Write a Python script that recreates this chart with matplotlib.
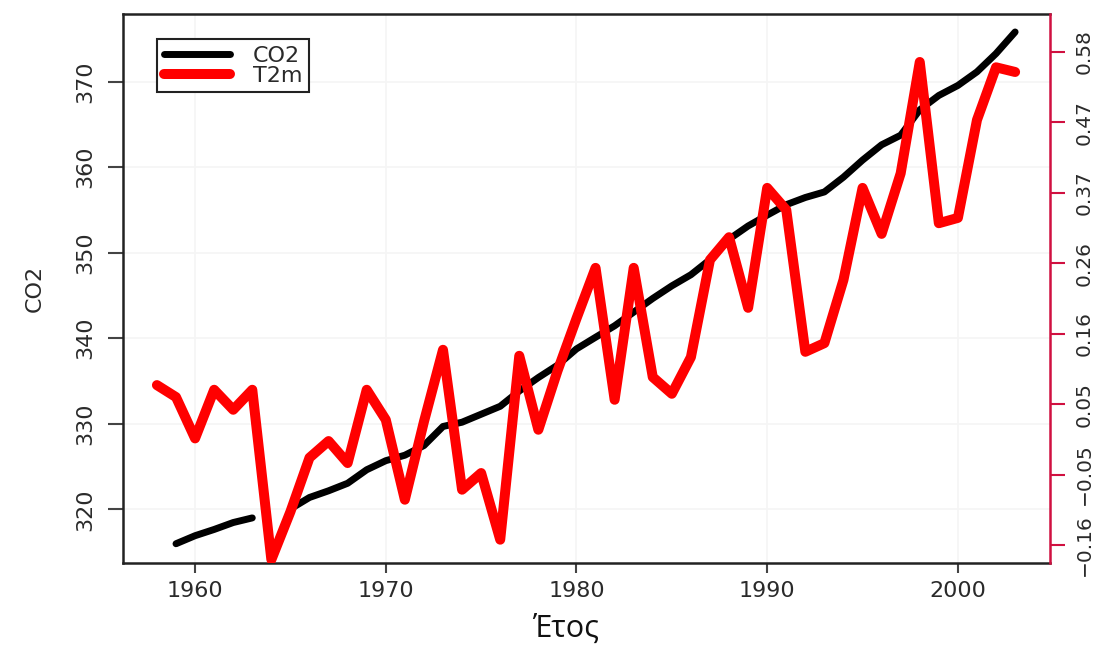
import numpy as np
import matplotlib
matplotlib.use("Agg")
import matplotlib.pyplot as plt
from matplotlib.lines import Line2D

# data
years_co2 = list(range(1959, 2004))
co2 = [315.97, 316.91, 317.64, 318.45, 318.99, np.nan, 320.04, 321.38, 322.16,
       323.04, 324.62, 325.68, 326.32, 327.45, 329.68, 330.18, 331.11, 332.04,
       333.83, 335.40, 336.84, 338.75, 340.11, 341.45, 343.05, 344.65, 346.12,
       347.42, 349.19, 351.57, 353.12, 354.39, 355.61, 356.45, 357.10, 358.83,
       360.82, 362.61, 363.73, 366.70, 368.38, 369.55, 371.14, 373.28, 375.80]

years_t = list(range(1958, 2004))
t2m = [0.080, 0.062, 0.000, 0.073, 0.043, 0.073, -0.182, -0.110, -0.029, -0.004,
       -0.037, 0.073, 0.028, -0.092, 0.025, 0.133, -0.077, -0.052, -0.152, 0.124,
       0.013, 0.101, 0.180, 0.256, 0.058, 0.256, 0.092, 0.067, 0.122, 0.268,
       0.302, 0.196, 0.376, 0.343, 0.130, 0.143, 0.238, 0.376, 0.307, 0.398,
       0.565, 0.323, 0.331, 0.478, 0.557, 0.550]

x_ticks = [1960, 1970, 1980, 1990, 2000]
co2_ticks = [320, 330, 340, 350, 360, 370]
t_tick_labels = ["\u22120.16", "\u22120.05", "0.05", "0.16", "0.26", "0.37", "0.47", "0.58"]

red = "#ff0000"
spine_red = "#d01040"
txt = "#2a2a2a"

fig = plt.figure(figsize=(11.04, 6.46), dpi=100)
ax = fig.add_axes([0.1114, 0.1285, 0.8397, 0.8498])
ax2 = ax.twinx()

# grid (barely visible in the original)
for xv in x_ticks:
    ax.axvline(xv, color="#f5f5f5", lw=1.2, zorder=0)
for yv in co2_ticks:
    ax.axhline(yv, color="#f5f5f5", lw=1.2, zorder=0)

ax.plot(years_co2, co2, color="black", lw=5.0, solid_capstyle="round",
        solid_joinstyle="round")
ax2.plot(years_t, t2m, color=red, lw=7.2, solid_capstyle="round",
         solid_joinstyle="round")

ax.set_xlim(1956.22, 2004.83)
ax.set_ylim(313.72, 377.9)
ax2.set_ylim(-0.187, 0.637)

ax.set_xticks(x_ticks)
ax.set_yticks(co2_ticks)
ax.set_xticklabels([str(v) for v in x_ticks])
ax.set_yticklabels([str(v) for v in co2_ticks], rotation=90, va="center")
ax2.set_yticks(np.linspace(-0.16, 0.58, len(t_tick_labels)))
ax2.set_yticklabels(t_tick_labels, rotation=90, va="center")

ax.tick_params(axis="x", length=7, width=1.5, pad=6, labelsize=16,
               colors="#444444", labelcolor=txt)
ax.tick_params(axis="y", length=11, width=1.5, pad=9, labelsize=16,
               colors="#444444", labelcolor=txt)
ax2.tick_params(axis="y", length=11, width=1.5, pad=7, labelsize=14.5,
                colors=spine_red, labelcolor=txt)

for name in ["left", "bottom", "top"]:
    ax.spines[name].set_color("#222222")
    ax.spines[name].set_linewidth(1.8)
    ax2.spines[name].set_visible(False)
ax.spines["right"].set_visible(False)
ax2.spines["right"].set_color(spine_red)
ax2.spines["right"].set_linewidth(1.8)

ax.set_ylabel("CO2", fontsize=16, color=txt, labelpad=22)
fig.text(0.512, 0.004, "Έτος", fontsize=22, family=["Open Sans", "DejaVu Sans"],
         ha="center", va="bottom", color="#111111")

handles = [Line2D([], [], color="black", lw=5.0, solid_capstyle="round"),
           Line2D([], [], color=red, lw=7.2, solid_capstyle="round")]
leg = ax2.legend(handles, ["CO2", "T2m"], loc="upper left",
                 bbox_to_anchor=(0.0367, 0.9545), borderaxespad=0,
                 fontsize=16, handlelength=3.0, labelspacing=0.0,
                 handletextpad=1.0, borderpad=0.3, fancybox=False,
                 framealpha=1, edgecolor="#222222")
leg.get_frame().set_linewidth(1.5)
for t in leg.get_texts():
    t.set_color(txt)

fig.savefig("out.png", dpi=100)
